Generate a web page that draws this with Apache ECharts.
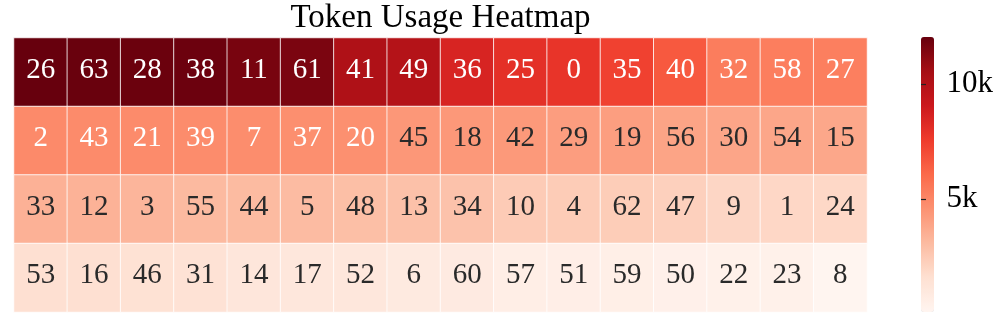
<!DOCTYPE html>
<html>
<head>
<meta charset="utf-8">
<script src="https://cdn.jsdelivr.net/npm/echarts@6/dist/echarts.min.js"></script>
<style>
html,body{margin:0;padding:0;background:#fff;}
#chart{width:996px;height:317px;}
</style>
</head>
<body>
<div id="chart"></div>
<script>
// Token ids shown in each cell, row by row (top to bottom)
var tokenRow0 = [26, 63, 28, 38, 11, 61, 41, 49, 36, 25, 0, 35, 40, 32, 58, 27];
var tokenRow1 = [2, 43, 21, 39, 7, 37, 20, 45, 18, 42, 29, 19, 56, 30, 54, 15];
var tokenRow2 = [33, 12, 3, 55, 44, 5, 48, 13, 34, 10, 4, 62, 47, 9, 1, 24];
var tokenRow3 = [53, 16, 46, 31, 14, 17, 52, 6, 60, 57, 51, 59, 50, 22, 23, 8];

// Usage count of each cell (estimated from colour), row by row
var usageRow0 = [12030, 11980, 11940, 11900, 11620, 11560, 10150, 9960, 8550, 8020, 7860, 7380, 6600, 5380, 5330, 5290];
var usageRow1 = [4900, 4860, 4830, 4800, 4760, 4700, 4650, 4400, 4370, 4340, 4180, 4140, 3940, 3900, 3870, 3840];
var usageRow2 = [3460, 3430, 3300, 3140, 3110, 3080, 2950, 2850, 2800, 2450, 2420, 2390, 2250, 2000, 1970, 1940];
var usageRow3 = [1620, 1600, 1500, 1480, 1160, 1130, 1100, 900, 880, 620, 590, 560, 440, 420, 400, 120];

// Colour bar tick values and labels
var colorTickValues = [5000, 10000];
var colorTickLabels = ['5k', '10k'];

var titleText = 'Token Usage Heatmap';

var tokenRows = [tokenRow0, tokenRow1, tokenRow2, tokenRow3];
var usageRows = [usageRow0, usageRow1, usageRow2, usageRow3];

var redsScale = ['#fff5f0', '#fee0d2', '#fcbba1', '#fc9272', '#fb6a4a', '#ef3b2c', '#cb181d', '#a50f15', '#67000d'];

var allUsage = [].concat(usageRow0, usageRow1, usageRow2, usageRow3);
var vMin = Math.min.apply(null, allUsage);
var vMax = Math.max.apply(null, allUsage);
var whiteTextAbove = 4600;

var cols = [];
for (var c = 0; c < tokenRow0.length; c++) cols.push(String(c));
var rows = [];
for (var r = 0; r < tokenRows.length; r++) rows.push(String(r));

var data = [];
for (var r2 = 0; r2 < tokenRows.length; r2++) {
  for (var c2 = 0; c2 < tokenRows[r2].length; c2++) {
    var v = usageRows[r2][c2];
    data.push({
      value: [c2, r2, v, tokenRows[r2][c2]],
      label: { color: v > whiteTextAbove ? '#ffffff' : '#2a2a2a' }
    });
  }
}

var FONT = '"Liberation Serif", "Times New Roman", serif';

var chart = echarts.init(document.getElementById('chart'), null, { renderer: 'canvas' });
chart.setOption({
  animation: false,
  backgroundColor: '#ffffff',
  title: {
    text: titleText,
    left: 440.5,
    textAlign: 'center',
    top: 2,
    padding: 0,
    textStyle: { fontFamily: FONT, fontSize: 33, fontWeight: 'normal', color: '#000' }
  },
  grid: [
    { left: 14, top: 38, width: 853, height: 274 },
    { left: 921, top: 37, width: 13, height: 275 }
  ],
  xAxis: [
    { type: 'category', data: cols, gridIndex: 0, show: false },
    { type: 'value', gridIndex: 1, show: false, min: 0, max: 1 }
  ],
  yAxis: [
    { type: 'category', data: rows, gridIndex: 0, show: false, inverse: true },
    {
      type: 'value', gridIndex: 1, position: 'right', min: vMin, max: vMax,
      axisLine: { show: true, lineStyle: { color: 'rgba(0,0,0,0)', width: 0 } },
      splitLine: { show: false },
      axisTick: { show: true, inside: false, customValues: colorTickValues, length: 5, lineStyle: { color: '#222', width: 1.2 } },
      axisLabel: {
        show: true, customValues: colorTickValues, margin: 14,
        fontFamily: FONT, fontSize: 31, color: '#000',
        formatter: function (val) {
          var i = colorTickValues.indexOf(val);
          return i >= 0 ? colorTickLabels[i] : '';
        }
      },
      z: 10
    }
  ],
  visualMap: {
    type: 'continuous',
    min: vMin,
    max: vMax,
    dimension: 2,
    seriesIndex: 0,
    calculable: false,
    hoverLink: false,
    orient: 'vertical',
    left: 921,
    top: 37,
    padding: 0,
    itemWidth: 13,
    itemHeight: 275,
    text: null,
    showLabel: false,
    inRange: { color: redsScale },
    z: 1
  },
  series: [{
    type: 'heatmap',
    xAxisIndex: 0,
    yAxisIndex: 0,
    data: data,
    itemStyle: { borderColor: 'rgba(255,255,255,0.8)', borderWidth: 1 },
    label: {
      show: true,
      fontFamily: FONT,
      fontSize: 29,
      offset: [0, -2],
      formatter: function (p) { return String(p.value[3]); }
    },
    emphasis: { disabled: true }
  }]
});
</script>
</body>
</html>
